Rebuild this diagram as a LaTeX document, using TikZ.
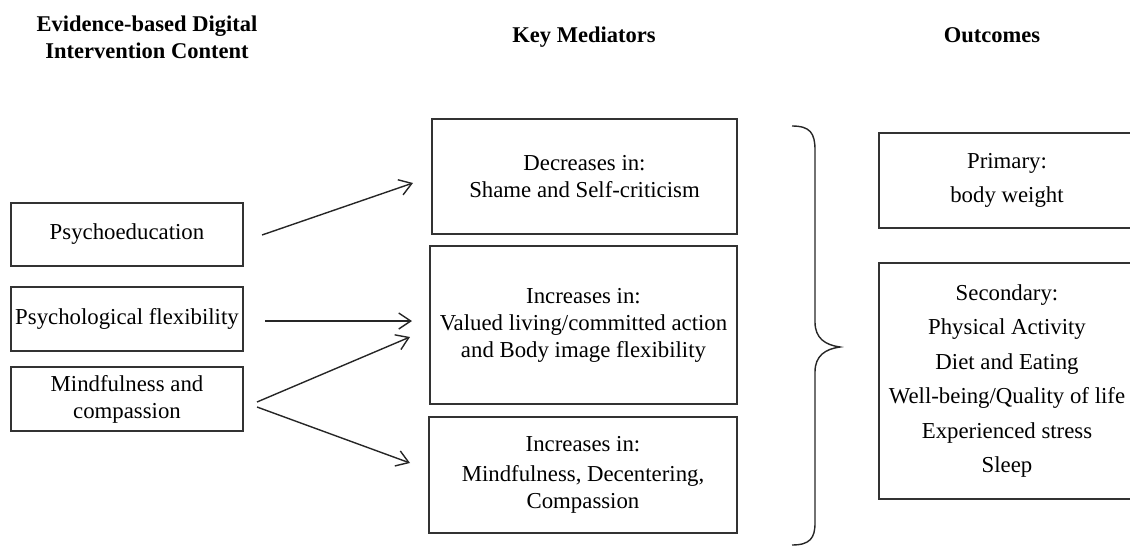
\documentclass[tikz,border=0pt]{standalone}
\usepackage{fontspec}
\setmainfont{Liberation Serif}
\usetikzlibrary{arrows.meta}
\begin{document}
\begin{tikzpicture}[x=1pt,y=-1pt,
  box/.style={draw=black!80, line width=1.1pt, rectangle, inner sep=0pt, align=center,
    font=\fontsize{22.8}{27}\selectfont},
  outbox/.style={box, font=\fontsize{22.8}{34.5}\selectfont},
  head/.style={font=\fontsize{22.5}{27}\selectfont\bfseries, align=center, inner sep=0pt},
  arr/.style={line width=1.4pt, draw=black!85, -{Straight Barb[length=12pt,width=16pt,line width=1.4pt]}},
  brace/.style={line width=1.4pt, draw=black!85}]
\useasboundingbox (0,0) rectangle (1130,546);
% headers
\node[head] (h1) at (147,37) {Evidence-based Digital\\Intervention Content};
\node[head, anchor=base] (h2) at (584,42) {Key Mediators};
\node[head, anchor=base] (h3) at (992,42) {Outcomes};
% left boxes
\node[box, minimum width=232pt, minimum height=63pt] (psy) at (127,234.5) {Psychoeducation};
\node[box, minimum width=232pt, minimum height=64pt] (flex) at (127,319) {Psychological flexibility};
\node[box, minimum width=232pt, minimum height=64pt] (mind) at (127,399) {Mindfulness and\\compassion};
% mediator boxes
\node[box, minimum width=305pt, minimum height=115pt] (med1) at (584.5,176.5) {Decreases in:\\Shame and Self-criticism};
\node[box, minimum width=307pt, minimum height=158pt] (med2) at (583.5,325) {Increases in:\\Valued living/committed action\\and Body image flexibility};
\node[box, minimum width=308pt, minimum height=116pt] (med3) at (583,475) {Increases in:\\[3pt]Mindfulness, Decentering,\\Compassion};
% outcome boxes
\node[outbox, minimum width=256pt, minimum height=95pt] (prim) at (1007,180.5) {Primary:\\body weight};
\node[outbox, minimum width=256pt, minimum height=236pt] (sec) at (1007,381) {Secondary:\\Physical Activity\\Diet and Eating\\Well-being/Quality of life\\Experienced stress\\Sleep};
% arrow end points
\coordinate (a1s) at (262,235); \coordinate (a1e) at (413,183);
\coordinate (a2s) at (265,321); \coordinate (a2e) at (412,321);
\coordinate (a3s) at (257,402); \coordinate (a3e) at (410,337);
\coordinate (a4s) at (257,407); \coordinate (a4e) at (410,463);
\draw[arr] (a1s) -- (a1e);
\draw[arr] (a2s) -- (a2e);
\draw[arr] (a3s) -- (a3e);
\draw[arr] (a4s) -- (a4e);
% brace
\coordinate (bt) at (792,126);
\coordinate (btip) at (840,347);
\coordinate (bb) at (792,545);
\draw[brace] (bt) .. controls (810,126) and (815,133) .. (815,150)
  -- (815,322) .. controls (815,338) and (825,345) .. (btip)
  .. controls (825,349) and (815,356) .. (815,372)
  -- (815,523) .. controls (815,538) and (810,545) .. (bb);
\end{tikzpicture}
\end{document}
